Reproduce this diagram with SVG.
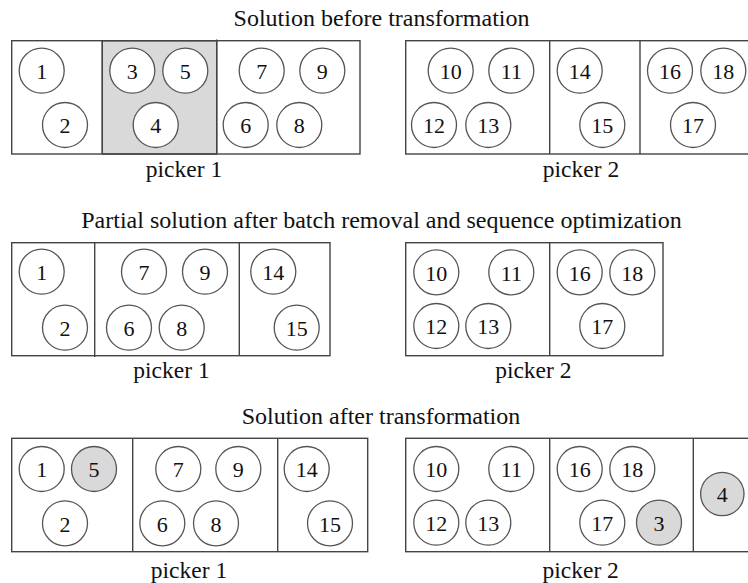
<svg xmlns="http://www.w3.org/2000/svg" width="748" height="583" viewBox="0 0 748 583">
<style>
text{font-family:"Liberation Serif","Times New Roman",serif;fill:#111}
.t{font-size:24px;text-anchor:middle}
.p{font-size:23.5px;text-anchor:middle}
.n{font-size:22px;text-anchor:middle;dominant-baseline:central}
.b{fill:none;stroke:#444;stroke-width:1.4}
.s{fill:#d9d9d9;stroke:#444;stroke-width:1.4}
circle{fill:#fff;stroke:#555;stroke-width:1.3}
circle.g{fill:#d9d9d9}
</style>
<rect width="748" height="583" fill="#fff"/>

<g id="row1">
<text class="t" x="381.5" y="26">Solution before transformation</text>
<g id="r1p1">
<rect class="s" x="102.3" y="40.7" width="114.4" height="113.3"/>
<rect class="b" x="11.7" y="40.7" width="348.3" height="113.3"/>
<line class="b" x1="102.3" y1="40.7" x2="102.3" y2="154"/>
<line class="b" x1="216.7" y1="39.5" x2="216.7" y2="154"/>
<g id="c1-1"><circle cx="41.7" cy="70.7" r="22.5"/><text class="n" x="41.7" y="71.5">1</text></g>
<g id="c1-2"><circle cx="65" cy="125" r="22.5"/><text class="n" x="65" y="125.8">2</text></g>
<g id="c1-3"><circle cx="132.3" cy="70.7" r="22.5"/><text class="n" x="132.3" y="71.5">3</text></g>
<g id="c1-5"><circle cx="185.3" cy="70.7" r="22.5"/><text class="n" x="185.3" y="71.5">5</text></g>
<g id="c1-4"><circle cx="155.7" cy="125" r="22.5"/><text class="n" x="155.7" y="125.8">4</text></g>
<g id="c1-7"><circle cx="261.7" cy="70.7" r="22.5"/><text class="n" x="261.7" y="71.5">7</text></g>
<g id="c1-9"><circle cx="322.3" cy="70.7" r="22.5"/><text class="n" x="322.3" y="71.5">9</text></g>
<g id="c1-6"><circle cx="245.7" cy="125" r="22.5"/><text class="n" x="245.7" y="125.8">6</text></g>
<g id="c1-8"><circle cx="299.3" cy="125" r="22.5"/><text class="n" x="299.3" y="125.8">8</text></g>
<text class="p" x="184" y="177">picker 1</text>
</g>
<g id="r1p2">
<rect class="b" x="405.7" y="40.7" width="350" height="113.3"/>
<line class="b" x1="549.7" y1="40.7" x2="549.7" y2="154"/>
<line class="b" x1="640" y1="40.7" x2="640" y2="154"/>
<g id="c1-10"><circle cx="450.7" cy="70.7" r="22.5"/><text class="n" x="450.7" y="71.5">10</text></g>
<g id="c1-11"><circle cx="511.3" cy="70.7" r="22.5"/><text class="n" x="511.3" y="71.5">11</text></g>
<g id="c1-12"><circle cx="434" cy="125" r="22.5"/><text class="n" x="434" y="125.8">12</text></g>
<g id="c1-13"><circle cx="488.3" cy="125" r="22.5"/><text class="n" x="488.3" y="125.8">13</text></g>
<g id="c1-14"><circle cx="579.7" cy="70.7" r="22.5"/><text class="n" x="579.7" y="71.5">14</text></g>
<g id="c1-15"><circle cx="602.3" cy="125" r="22.5"/><text class="n" x="602.3" y="125.8">15</text></g>
<g id="c1-16"><circle cx="670" cy="70.7" r="22.5"/><text class="n" x="670" y="71.5">16</text></g>
<g id="c1-18"><circle cx="723.3" cy="70.7" r="22.5"/><text class="n" x="723.3" y="71.5">18</text></g>
<g id="c1-17"><circle cx="693" cy="125" r="22.5"/><text class="n" x="693" y="125.8">17</text></g>
<text class="p" x="581" y="177">picker 2</text>
</g>
</g>

<g id="row2">
<text class="t" x="381.5" y="228">Partial solution after batch removal and sequence optimization</text>
<g id="r2p1">
<rect class="b" x="11.7" y="242.7" width="318.3" height="113"/>
<line class="b" x1="94.7" y1="242.7" x2="94.7" y2="357"/>
<line class="b" x1="239.3" y1="242.7" x2="239.3" y2="355.7"/>
<g id="c2-1"><circle cx="41.7" cy="271.7" r="22.5"/><text class="n" x="41.7" y="272.5">1</text></g>
<g id="c2-2"><circle cx="65" cy="327.7" r="22.5"/><text class="n" x="65" y="328.5">2</text></g>
<g id="c2-7"><circle cx="144" cy="271.7" r="22.5"/><text class="n" x="144" y="272.5">7</text></g>
<g id="c2-9"><circle cx="205" cy="271.7" r="22.5"/><text class="n" x="205" y="272.5">9</text></g>
<g id="c2-6"><circle cx="129" cy="327.7" r="22.5"/><text class="n" x="129" y="328.5">6</text></g>
<g id="c2-8"><circle cx="181.7" cy="327.7" r="22.5"/><text class="n" x="181.7" y="328.5">8</text></g>
<g id="c2-14"><circle cx="273.3" cy="271.7" r="22.5"/><text class="n" x="273.3" y="272.5">14</text></g>
<g id="c2-15"><circle cx="296.7" cy="327.7" r="22.5"/><text class="n" x="296.7" y="328.5">15</text></g>
<text class="p" x="171.5" y="378">picker 1</text>
</g>
<g id="r2p2">
<rect class="b" x="405.7" y="242.7" width="257.3" height="113"/>
<line class="b" x1="549.7" y1="242.7" x2="549.7" y2="355.7"/>
<g id="c2-10"><circle cx="436.3" cy="272.3" r="22.5"/><text class="n" x="436.3" y="273.1">10</text></g>
<g id="c2-11"><circle cx="511.3" cy="272.3" r="22.5"/><text class="n" x="511.3" y="273.1">11</text></g>
<g id="c2-12"><circle cx="436.3" cy="326" r="22.5"/><text class="n" x="436.3" y="326.8">12</text></g>
<g id="c2-13"><circle cx="488.3" cy="326" r="22.5"/><text class="n" x="488.3" y="326.8">13</text></g>
<g id="c2-16"><circle cx="579.7" cy="272.3" r="22.5"/><text class="n" x="579.7" y="273.1">16</text></g>
<g id="c2-18"><circle cx="632.3" cy="272.3" r="22.5"/><text class="n" x="632.3" y="273.1">18</text></g>
<g id="c2-17"><circle cx="602.3" cy="326" r="22.5"/><text class="n" x="602.3" y="326.8">17</text></g>
<text class="p" x="533.3" y="378">picker 2</text>
</g>
</g>

<g id="row3">
<text class="t" x="381" y="424">Solution after transformation</text>
<g id="r3p1">
<rect class="b" x="11.7" y="438.3" width="356" height="113.4"/>
<line class="b" x1="132.7" y1="438.3" x2="132.7" y2="551.7"/>
<line class="b" x1="277.7" y1="438.3" x2="277.7" y2="551.7"/>
<g id="c3-1"><circle cx="41.7" cy="469" r="22.5"/><text class="n" x="41.7" y="469.8">1</text></g>
<g id="c3-5"><circle class="g" cx="94" cy="469" r="22.5"/><text class="n" x="94" y="469.8">5</text></g>
<g id="c3-2"><circle cx="65" cy="523.3" r="22.5"/><text class="n" x="65" y="524.1">2</text></g>
<g id="c3-7"><circle cx="178.3" cy="469" r="22.5"/><text class="n" x="178.3" y="469.8">7</text></g>
<g id="c3-9"><circle cx="238.3" cy="469" r="22.5"/><text class="n" x="238.3" y="469.8">9</text></g>
<g id="c3-6"><circle cx="162.3" cy="523.3" r="22.5"/><text class="n" x="162.3" y="524.1">6</text></g>
<g id="c3-8"><circle cx="216" cy="523.3" r="22.5"/><text class="n" x="216" y="524.1">8</text></g>
<g id="c3-14"><circle cx="306.7" cy="469" r="22.5"/><text class="n" x="306.7" y="469.8">14</text></g>
<g id="c3-15"><circle cx="330" cy="523.3" r="22.5"/><text class="n" x="330" y="524.1">15</text></g>
<text class="p" x="189" y="577.5">picker 1</text>
</g>
<g id="r3p2">
<rect class="b" x="405.7" y="438.3" width="350" height="113.4"/>
<line class="b" x1="549.7" y1="438.3" x2="549.7" y2="551.7"/>
<line class="b" x1="693.3" y1="438.3" x2="693.3" y2="551.7"/>
<g id="c3-10"><circle cx="436.3" cy="469" r="22.5"/><text class="n" x="436.3" y="469.8">10</text></g>
<g id="c3-11"><circle cx="511.3" cy="469" r="22.5"/><text class="n" x="511.3" y="469.8">11</text></g>
<g id="c3-12"><circle cx="436.3" cy="522.7" r="22.5"/><text class="n" x="436.3" y="523.5">12</text></g>
<g id="c3-13"><circle cx="488.3" cy="522.7" r="22.5"/><text class="n" x="488.3" y="523.5">13</text></g>
<g id="c3-16"><circle cx="579.7" cy="469" r="22.5"/><text class="n" x="579.7" y="469.8">16</text></g>
<g id="c3-18"><circle cx="632.3" cy="469" r="22.5"/><text class="n" x="632.3" y="469.8">18</text></g>
<g id="c3-17"><circle cx="602.3" cy="522.7" r="22.5"/><text class="n" x="602.3" y="523.5">17</text></g>
<g id="c3-3"><circle class="g" cx="659" cy="522.7" r="22.5"/><text class="n" x="659" y="523.5">3</text></g>
<g id="c3-4"><circle class="g" cx="722.3" cy="494" r="21.7"/><text class="n" x="722.3" y="494.8">4</text></g>
<text class="p" x="580.7" y="577.5">picker 2</text>
</g>
</g>
</svg>
